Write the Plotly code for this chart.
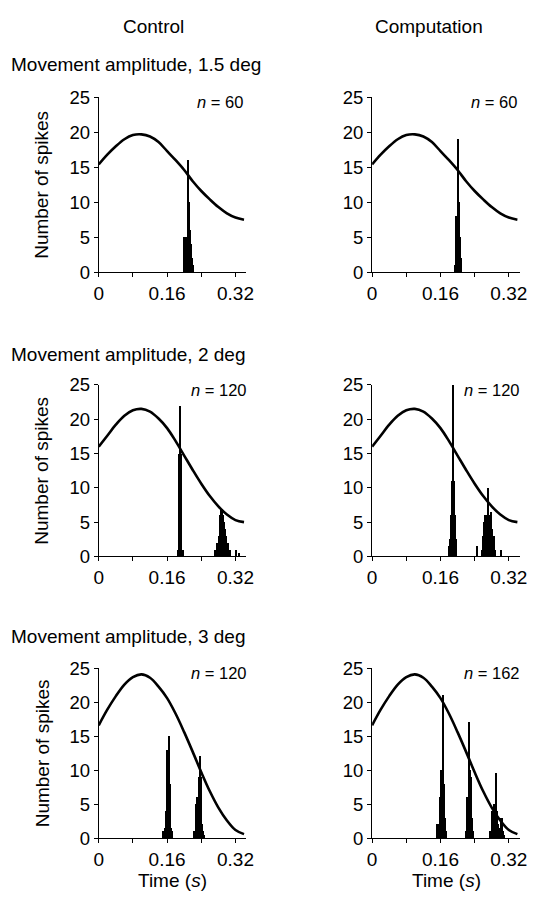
import plotly.graph_objects as go

W, H = 549, 913

# ---------------- data ----------------
curve_t = [0.00, 0.02, 0.04, 0.06, 0.08, 0.10, 0.12, 0.14, 0.16, 0.18,
           0.20, 0.22, 0.24, 0.26, 0.28, 0.30, 0.32, 0.34]
curve_15 = [15.4, 16.8, 18.0, 19.0, 19.6, 19.7, 19.4, 18.6, 17.3, 16.0,
            14.6, 13.0, 11.6, 10.4, 9.3, 8.4, 7.8, 7.5]
curve_20 = [16.0, 17.6, 19.2, 20.5, 21.3, 21.5, 21.1, 20.1, 18.7, 16.8,
            14.7, 12.6, 10.6, 8.8, 7.3, 6.1, 5.3, 5.0]
curve_30 = [16.6, 18.9, 20.9, 22.6, 23.7, 24.1, 23.6, 22.3, 20.6, 18.3,
            15.6, 12.7, 9.7, 6.9, 4.5, 2.6, 1.2, 0.6]

# histogram bins (time in s, spike count)
ctrl15_t = [0.2000, 0.2023, 0.2046, 0.2069, 0.2092, 0.2115, 0.2137, 0.2160, 0.2183, 0.2206]
ctrl15_n = [5, 5, 5, 5, 16, 10, 6, 4, 2, 1]

comp15_t = [0.1932, 0.1955, 0.1977, 0.2000, 0.2023, 0.2046, 0.2069, 0.2092]
comp15_n = [1, 8, 8, 8, 19, 10, 5, 2]

ctrl20_t = [0.1840, 0.1863, 0.1886, 0.1909, 0.1932, 0.1955,
            0.2709, 0.2732, 0.2755, 0.2777, 0.2800, 0.2823, 0.2846, 0.2869,
            0.2892, 0.2915, 0.2937, 0.2960, 0.2983, 0.3006, 0.3029, 0.3052,
            0.3075, 0.3212, 0.3280]
ctrl20_n = [1, 15, 22, 15, 1, 1,
            1, 1, 2, 2, 3, 6, 7, 7, 6, 5, 4, 4, 3, 2, 2, 1, 1, 1, 0.5]

comp20_t = [0.1795, 0.1817, 0.1840, 0.1863, 0.1886, 0.1909, 0.1932, 0.1955, 0.1977,
            0.2457,
            0.2572, 0.2595, 0.2617, 0.2640, 0.2663, 0.2686, 0.2709, 0.2732,
            0.2755, 0.2777, 0.2800, 0.2823, 0.2846, 0.2869,
            0.3029]
comp20_n = [1.5, 2.5, 6, 11, 25, 11, 6, 2.5, 1.5,
            1.5,
            1, 3, 5, 6, 4, 6, 10, 6, 5, 6.5, 4, 3, 3, 1,
            1]

ctrl30_t = [0.1497, 0.1520, 0.1543, 0.1566, 0.1589, 0.1612, 0.1634, 0.1657, 0.1680, 0.1703,
            0.2229, 0.2252, 0.2275, 0.2297, 0.2320, 0.2343, 0.2366, 0.2389, 0.2412,
            0.2435, 0.2457]
ctrl30_n = [1, 1, 1.5, 4, 13, 13, 15, 8, 1.5, 1,
            1, 1, 5, 6, 6, 9, 12, 9, 2, 1, 0.5]

comp30_t = [0.1520, 0.1543, 0.1566, 0.1589, 0.1612, 0.1634, 0.1657, 0.1680, 0.1703, 0.1726,
            0.2206, 0.2229, 0.2252, 0.2275, 0.2297, 0.2320, 0.2343, 0.2366,
            0.2755, 0.2777, 0.2800, 0.2823, 0.2846, 0.2869, 0.2892, 0.2915,
            0.2937, 0.2960, 0.2983, 0.3006, 0.3029, 0.3052, 0.3075, 0.3097]
comp30_n = [2, 2, 1, 6, 10, 10, 21, 8, 3, 1,
            1, 6, 6, 17, 10, 9, 3, 1,
            1, 1, 4, 4, 5, 5, 9.5, 4, 4, 2, 1.5, 1.5, 3, 3, 1, 0.5]

col_titles = ["Control", "Computation"]
row_titles = ["Movement amplitude, 1.5 deg", "Movement amplitude, 2 deg",
              "Movement amplitude, 3 deg"]
n_labels = [["60", "60"], ["120", "120"], ["120", "162"]]
x_tickvals = [0, 0.08, 0.16, 0.24, 0.32]
x_ticktext = ["0", "", "0.16", "", "0.32"]
y_tickvals = [0, 5, 10, 15, 20, 25]

# ---------------- layout geometry (pixels) ----------------
col_px = [(96, 247), (376, 527)]
row_px = [(88.3, 267.3), (382.7, 558.3), (672.7, 846.7)]
heading_y = [55, 352, 640]
n_right_px = [[246, 526], [250, 530], [250, 530]]

FONT = "Liberation Sans, Arial, Helvetica, sans-serif"

def px_x(p):
    return p / W

def px_y(p):
    return 1 - p / H

fig = go.Figure()

panels = [
    (0, 0, curve_15, ctrl15_t, ctrl15_n),
    (0, 1, curve_15, comp15_t, comp15_n),
    (1, 0, curve_20, ctrl20_t, ctrl20_n),
    (1, 1, curve_20, comp20_t, comp20_n),
    (2, 0, curve_30, ctrl30_t, ctrl30_n),
    (2, 1, curve_30, comp30_t, comp30_n),
]

annotations = []
for k, (r, c, curve, bt, bn) in enumerate(panels):
    idx = k + 1
    xa = "x" if idx == 1 else f"x{idx}"
    ya = "y" if idx == 1 else f"y{idx}"
    fig.add_trace(go.Bar(x=bt, y=bn, width=0.0024, marker=dict(color="black", line=dict(width=0)),
                         xaxis=xa, yaxis=ya, showlegend=False))
    fig.add_trace(go.Scatter(x=curve_t, y=curve, mode="lines",
                             line=dict(color="black", width=2.6, shape="spline"),
                             xaxis=xa, yaxis=ya, showlegend=False))
    x0, x1 = col_px[c]
    y0, y1 = row_px[r]
    xkey = "xaxis" if idx == 1 else f"xaxis{idx}"
    ykey = "yaxis" if idx == 1 else f"yaxis{idx}"
    fig.update_layout(**{
        xkey: dict(domain=[px_x(x0), px_x(x1)], range=[0, 0.345], anchor=ya,
                   showline=True, linecolor="black", linewidth=1, showgrid=False,
                   zeroline=False, tickvals=x_tickvals, ticktext=x_ticktext,
                   ticks="outside", ticklen=4, tickcolor="black", tickwidth=1,
                   tickfont=dict(family=FONT, size=19, color="black"),
                   fixedrange=True),
        ykey: dict(domain=[px_y(y1), px_y(y0)], range=[0, 25], anchor=xa,
                   showline=True, linecolor="black", linewidth=1, showgrid=False,
                   zeroline=False, tickvals=y_tickvals,
                   ticks="outside", ticklen=4, tickcolor="black", tickwidth=1,
                   tickfont=dict(family=FONT, size=18.5, color="black"),
                   fixedrange=True),
    })
    annotations.append(dict(text=f"<i>n</i> = {n_labels[r][c]}", xref="paper", yref="paper",
                            x=px_x(n_right_px[r][c]), y=px_y(y0 + 5), xanchor="right",
                            yanchor="middle", showarrow=False,
                            font=dict(family=FONT, size=16.5, color="black")))
    if c == 0:
        annotations.append(dict(text="Number of spikes", xref="paper", yref="paper",
                                x=px_x(38), y=px_y((y0 + y1) / 2), xanchor="center",
                                yanchor="middle", textangle=-90, showarrow=False,
                                font=dict(family=FONT, size=19, color="black")))

for c, t in enumerate(col_titles):
    annotations.append(dict(text=t, xref="paper", yref="paper", x=px_x([152, 434][c]),
                            y=px_y(16), xanchor="center", yanchor="middle", showarrow=False,
                            font=dict(family=FONT, size=19, color="black")))

for r, t in enumerate(row_titles):
    annotations.append(dict(text=t, xref="paper", yref="paper", x=px_x(4),
                            y=px_y(heading_y[r]), xanchor="left", yanchor="middle",
                            showarrow=False, font=dict(family=FONT, size=19, color="black")))

for c in range(2):
    annotations.append(dict(text="Time (<i>s</i>)", xref="paper", yref="paper",
                            x=px_x([172, 452][c]), y=px_y(890), xanchor="center",
                            yanchor="middle", showarrow=False,
                            font=dict(family=FONT, size=19, color="black")))

fig.update_layout(width=W, height=H, margin=dict(l=0, r=0, t=0, b=0),
                  paper_bgcolor="white", plot_bgcolor="white", bargap=0,
                  annotations=annotations, showlegend=False)

fig.write_html("out.html", config={"displayModeBar": False},
               post_script="document.body.style.margin='0';document.body.style.overflow='hidden';")
